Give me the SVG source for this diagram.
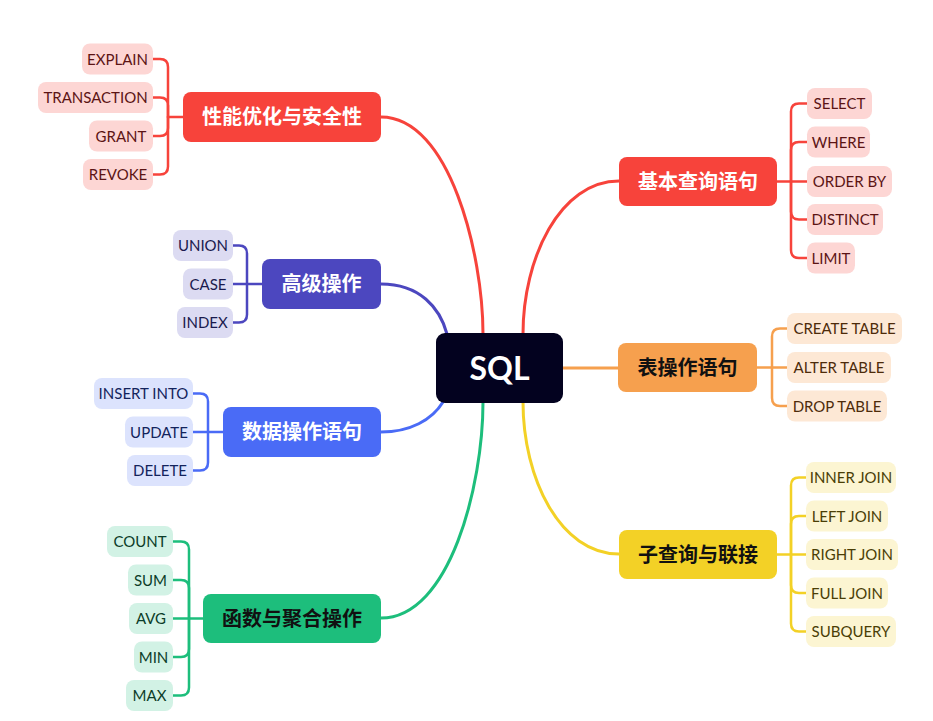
<svg xmlns="http://www.w3.org/2000/svg" width="933" height="721" viewBox="0 0 933 721">
<style>
.topic{font-family:"Noto Sans CJK SC","Noto Sans",sans-serif;font-size:20px;font-weight:700;text-anchor:middle}
.sub{font-family:Lato,"Liberation Sans",sans-serif;font-size:15px;text-anchor:middle}
.conn{fill:none;stroke-width:3;stroke-linecap:round}
.br{fill:none;stroke-width:2.5;stroke-linecap:round;stroke-linejoin:round}
.red{stroke:#f7433b}.ind{stroke:#4c47bf}.blu{stroke:#4a6bf6}.grn{stroke:#1dbe7c}.org{stroke:#f6a04e}.yel{stroke:#f3d126}
.s-red rect{fill:#fdd6d4}.s-red text{fill:#5c1414}
.s-ind rect{fill:#dcdbf2}.s-ind text{fill:#1a1a4e}
.s-blu rect{fill:#dce3fd}.s-blu text{fill:#13235c}
.s-grn rect{fill:#d2f2e5}.s-grn text{fill:#0c3d29}
.s-org rect{fill:#fde8d5}.s-org text{fill:#4d2b0a}
.s-yel rect{fill:#fcf5d2}.s-yel text{fill:#4a3e06}
</style>
<rect width="933" height="721" fill="#ffffff"/>
<g id="connectors">
<path class="conn red" d="M381,117 C450,117 483,255 483,334"/>
<path class="conn red" d="M619,181 C560,181 523,258 523,334"/>
<path class="conn ind" d="M381,284 C420,284 440,308 447,334"/>
<path class="conn blu" d="M381,432 C410,432 432,420 443,402"/>
<path class="conn grn" d="M381,618 C450,618 483,485 483,402"/>
<path class="conn yel" d="M619,554 C560,554 523,478 523,402"/>
<path class="conn org" d="M563,368 L618,368"/>
<!-- 性能优化与安全性 brackets -->
<path class="br red" d="M183,117 H168 V67 Q168,59 160,59 H153"/>
<path class="br red" d="M168,117 V105.5 Q168,97.5 160,97.5 H153"/>
<path class="br red" d="M168,117 V128 Q168,136 160,136 H153"/>
<path class="br red" d="M168,117 V166.5 Q168,174.5 160,174.5 H153"/>
<!-- 基本查询语句 -->
<path class="br red" d="M777,181.5 H791 V111.5 Q791,103.5 799,103.5 H807"/>
<path class="br red" d="M791,181.5 V150 Q791,142 799,142 H807"/>
<path class="br red" d="M791,181.5 H807"/>
<path class="br red" d="M791,181.5 V211.5 Q791,219.5 799,219.5 H807"/>
<path class="br red" d="M791,181.5 V250 Q791,258 799,258 H807"/>
<!-- 高级操作 -->
<path class="br ind" d="M262,284 H247 V253.5 Q247,245.5 239,245.5 H233"/>
<path class="br ind" d="M247,284 H233"/>
<path class="br ind" d="M247,284 V314.5 Q247,322.5 239,322.5 H233"/>
<!-- 数据操作语句 -->
<path class="br blu" d="M223,432 H208 V401.5 Q208,393.5 200,393.5 H193"/>
<path class="br blu" d="M208,432 H193"/>
<path class="br blu" d="M208,432 V462.5 Q208,470.5 200,470.5 H193"/>
<!-- 函数与聚合操作 -->
<path class="br grn" d="M203,618.5 H189 V549.5 Q189,541.5 181,541.5 H173"/>
<path class="br grn" d="M189,618.5 V588 Q189,580 181,580 H173"/>
<path class="br grn" d="M189,618.5 H173"/>
<path class="br grn" d="M189,618.5 V649 Q189,657 181,657 H173"/>
<path class="br grn" d="M189,618.5 V687.5 Q189,695.5 181,695.5 H173"/>
<!-- 表操作语句 -->
<path class="br org" d="M757,367.5 H772 V336.5 Q772,328.5 780,328.5 H787"/>
<path class="br org" d="M772,367.5 H787"/>
<path class="br org" d="M772,367.5 V398 Q772,406 780,406 H787"/>
<!-- 子查询与联接 -->
<path class="br yel" d="M777,554.5 H791 V485.5 Q791,477.5 799,477.5 H806"/>
<path class="br yel" d="M791,554.5 V524 Q791,516 799,516 H806"/>
<path class="br yel" d="M791,554.5 H806"/>
<path class="br yel" d="M791,554.5 V585 Q791,593 799,593 H806"/>
<path class="br yel" d="M791,554.5 V623.5 Q791,631.5 799,631.5 H806"/>
</g>
<g id="root">
<rect x="436" y="333" width="127" height="70" rx="9" fill="#03021f"/>
<text x="499.5" y="379.5" font-family="Lato,'Liberation Sans',sans-serif" font-size="32" font-weight="700" fill="#ffffff" text-anchor="middle">SQL</text>
</g>
<g id="topic-perf">
<rect x="183" y="92" width="198" height="50" rx="8" fill="#f7433b"/>
<text class="topic" x="282" y="124" fill="#ffffff">性能优化与安全性</text>
</g>
<g id="topic-basic">
<rect x="619" y="157" width="158" height="49" rx="8" fill="#f7433b"/>
<text class="topic" x="698" y="188.5" fill="#ffffff">基本查询语句</text>
</g>
<g id="topic-adv">
<rect x="262" y="259" width="119" height="50" rx="8" fill="#4c47bf"/>
<text class="topic" x="321.5" y="291" fill="#ffffff">高级操作</text>
</g>
<g id="topic-dml">
<rect x="223" y="407" width="158" height="50" rx="8" fill="#4a6bf6"/>
<text class="topic" x="302" y="439" fill="#ffffff">数据操作语句</text>
</g>
<g id="topic-func">
<rect x="203" y="594" width="178" height="49" rx="8" fill="#1dbe7c"/>
<text class="topic" x="292" y="625.5" fill="#111111">函数与聚合操作</text>
</g>
<g id="topic-table">
<rect x="618" y="343" width="139" height="49" rx="8" fill="#f6a04e"/>
<text class="topic" x="687.5" y="374.5" fill="#111111">表操作语句</text>
</g>
<g id="topic-join">
<rect x="619" y="530" width="158" height="49" rx="8" fill="#f3d126"/>
<text class="topic" x="698" y="561.5" fill="#111111">子查询与联接</text>
</g>
<g id="sub-perf" class="s-red">
<g id="n-explain"><rect x="82" y="43.5" width="71" height="31" rx="8"/><text class="sub" x="117.5" y="64.5">EXPLAIN</text></g>
<g id="n-transaction"><rect x="38" y="82" width="115" height="31" rx="8"/><text class="sub" x="95.5" y="103">TRANSACTION</text></g>
<g id="n-grant"><rect x="89" y="120.5" width="64" height="31" rx="8"/><text class="sub" x="121" y="141.5">GRANT</text></g>
<g id="n-revoke"><rect x="83" y="159" width="70" height="31" rx="8"/><text class="sub" x="118" y="180">REVOKE</text></g>
</g>
<g id="sub-basic" class="s-red">
<g id="n-select"><rect x="807" y="88" width="65" height="31" rx="8"/><text class="sub" x="839.5" y="109">SELECT</text></g>
<g id="n-where"><rect x="807" y="126.5" width="63" height="31" rx="8"/><text class="sub" x="838.5" y="147.5">WHERE</text></g>
<g id="n-orderby"><rect x="807" y="166" width="85" height="31" rx="8"/><text class="sub" x="849.5" y="187">ORDER BY</text></g>
<g id="n-distinct"><rect x="807" y="204" width="76" height="31" rx="8"/><text class="sub" x="845" y="225">DISTINCT</text></g>
<g id="n-limit"><rect x="807" y="242.5" width="48" height="31" rx="8"/><text class="sub" x="831" y="263.5">LIMIT</text></g>
</g>
<g id="sub-adv" class="s-ind">
<g id="n-union"><rect x="173" y="230" width="60" height="31" rx="8"/><text class="sub" x="203" y="251">UNION</text></g>
<g id="n-case"><rect x="183" y="268.5" width="50" height="31" rx="8"/><text class="sub" x="208" y="289.5">CASE</text></g>
<g id="n-index"><rect x="177" y="307" width="56" height="31" rx="8"/><text class="sub" x="205" y="328">INDEX</text></g>
</g>
<g id="sub-dml" class="s-blu">
<g id="n-insert"><rect x="94" y="378" width="99" height="31" rx="8"/><text class="sub" x="143.5" y="399">INSERT INTO</text></g>
<g id="n-update"><rect x="125" y="416.5" width="68" height="31" rx="8"/><text class="sub" x="159" y="437.5">UPDATE</text></g>
<g id="n-delete"><rect x="127" y="455" width="66" height="31" rx="8"/><text class="sub" x="160" y="476">DELETE</text></g>
</g>
<g id="sub-func" class="s-grn">
<g id="n-count"><rect x="107" y="526" width="66" height="31" rx="8"/><text class="sub" x="140" y="547">COUNT</text></g>
<g id="n-sum"><rect x="128" y="564.5" width="45" height="31" rx="8"/><text class="sub" x="150.5" y="585.5">SUM</text></g>
<g id="n-avg"><rect x="129" y="603" width="44" height="31" rx="8"/><text class="sub" x="151" y="624">AVG</text></g>
<g id="n-min"><rect x="134" y="641.5" width="39" height="31" rx="8"/><text class="sub" x="153.5" y="662.5">MIN</text></g>
<g id="n-max"><rect x="126" y="680" width="47" height="31" rx="8"/><text class="sub" x="149.5" y="701">MAX</text></g>
</g>
<g id="sub-table" class="s-org">
<g id="n-create"><rect x="787" y="313" width="115" height="31" rx="8"/><text class="sub" x="844.5" y="334">CREATE TABLE</text></g>
<g id="n-alter"><rect x="787" y="352" width="104" height="31" rx="8"/><text class="sub" x="839" y="373">ALTER TABLE</text></g>
<g id="n-drop"><rect x="787" y="390.5" width="100" height="31" rx="8"/><text class="sub" x="837" y="411.5">DROP TABLE</text></g>
</g>
<g id="sub-join" class="s-yel">
<g id="n-inner"><rect x="806" y="462" width="90" height="31" rx="8"/><text class="sub" x="851" y="483">INNER JOIN</text></g>
<g id="n-left"><rect x="806" y="500.5" width="82" height="31" rx="8"/><text class="sub" x="847" y="521.5">LEFT JOIN</text></g>
<g id="n-right"><rect x="806" y="539" width="92" height="31" rx="8"/><text class="sub" x="852" y="560">RIGHT JOIN</text></g>
<g id="n-full"><rect x="806" y="577.5" width="82" height="31" rx="8"/><text class="sub" x="847" y="598.5">FULL JOIN</text></g>
<g id="n-subquery"><rect x="806" y="616" width="90" height="31" rx="8"/><text class="sub" x="851" y="637">SUBQUERY</text></g>
</g>
</svg>
